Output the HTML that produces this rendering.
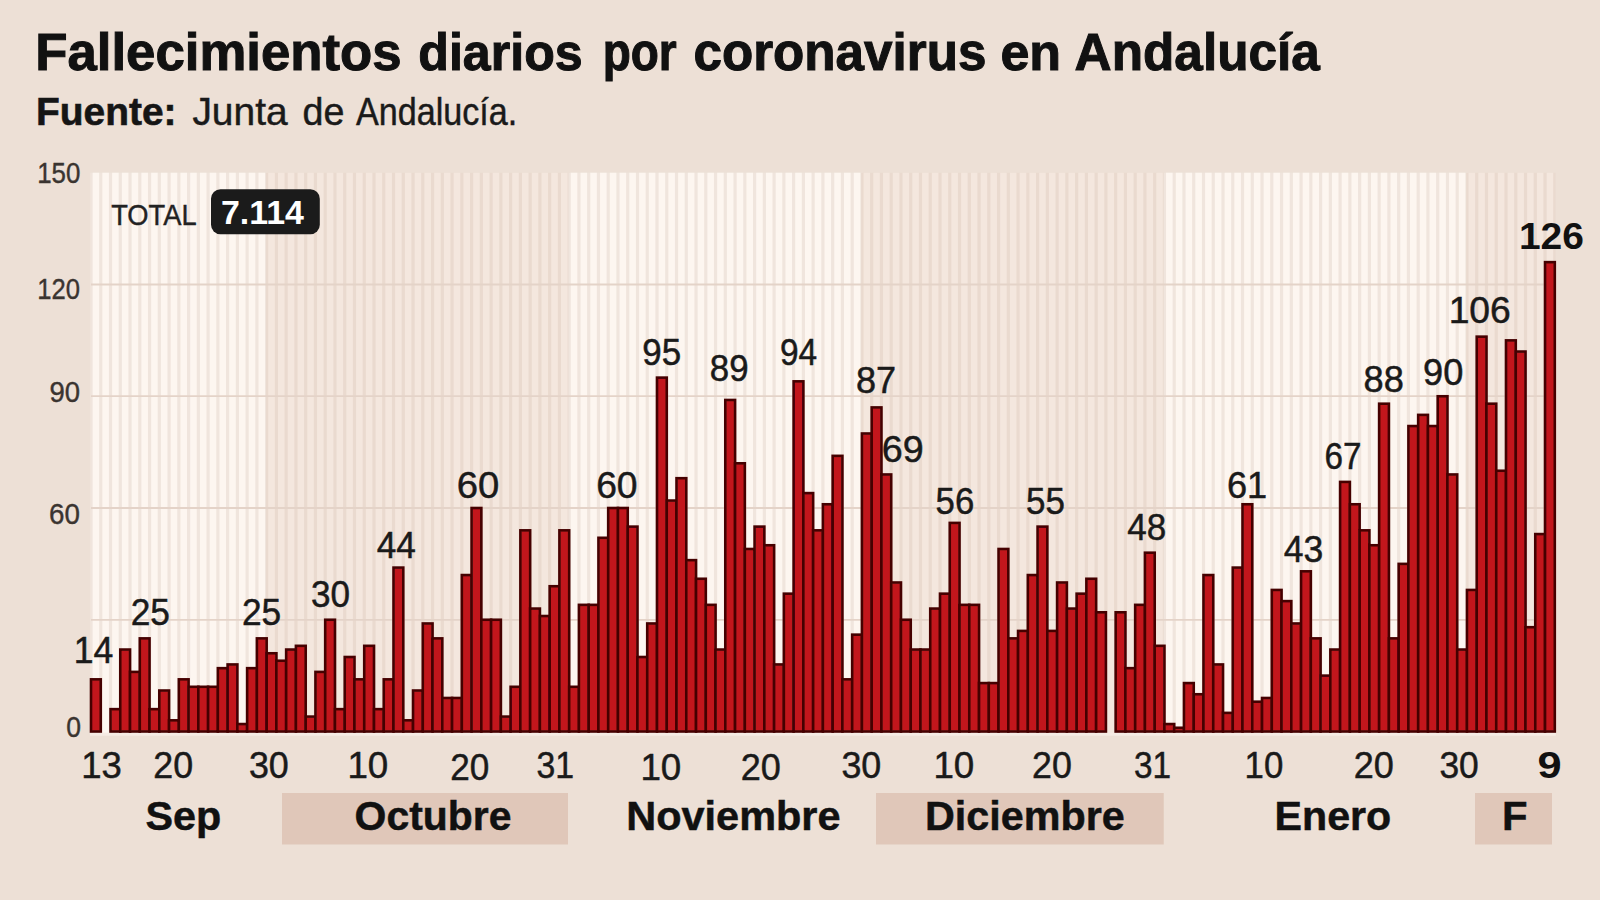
<!DOCTYPE html>
<html lang="es"><head><meta charset="utf-8"><title>Fallecimientos diarios por coronavirus en Andalucía</title>
<style>html,body{margin:0;padding:0;background:#EDE0D6;}body{width:1600px;height:900px;overflow:hidden;}svg{display:block;}text{font-family:"Liberation Sans",sans-serif;}</style>
</head><body>
<svg width="1600" height="900" viewBox="0 0 1600 900">
<rect width="1600" height="900" fill="#EDE0D6"/>
<g id="plotbg">
<rect x="90.20" y="172.75" width="177.26" height="560.75" fill="#F0E5DD"/>
<rect x="92.60" y="172.75" width="6.56" height="560.75" fill="#FDF6F0"/>
<rect x="102.36" y="172.75" width="6.56" height="560.75" fill="#FDF6F0"/>
<rect x="112.12" y="172.75" width="6.56" height="560.75" fill="#FDF6F0"/>
<rect x="121.88" y="172.75" width="6.56" height="560.75" fill="#FDF6F0"/>
<rect x="131.63" y="172.75" width="6.56" height="560.75" fill="#FDF6F0"/>
<rect x="141.39" y="172.75" width="6.56" height="560.75" fill="#FDF6F0"/>
<rect x="151.15" y="172.75" width="6.56" height="560.75" fill="#FDF6F0"/>
<rect x="160.91" y="172.75" width="6.56" height="560.75" fill="#FDF6F0"/>
<rect x="170.67" y="172.75" width="6.56" height="560.75" fill="#FDF6F0"/>
<rect x="180.43" y="172.75" width="6.56" height="560.75" fill="#FDF6F0"/>
<rect x="190.19" y="172.75" width="6.56" height="560.75" fill="#FDF6F0"/>
<rect x="199.95" y="172.75" width="6.56" height="560.75" fill="#FDF6F0"/>
<rect x="209.70" y="172.75" width="6.56" height="560.75" fill="#FDF6F0"/>
<rect x="219.46" y="172.75" width="6.56" height="560.75" fill="#FDF6F0"/>
<rect x="229.22" y="172.75" width="6.56" height="560.75" fill="#FDF6F0"/>
<rect x="238.98" y="172.75" width="6.56" height="560.75" fill="#FDF6F0"/>
<rect x="248.74" y="172.75" width="6.56" height="560.75" fill="#FDF6F0"/>
<rect x="258.50" y="172.75" width="6.56" height="560.75" fill="#FDF6F0"/>
<rect x="265.86" y="172.75" width="304.12" height="560.75" fill="#EADACF"/>
<rect x="268.26" y="172.75" width="6.56" height="560.75" fill="#F4E7DE"/>
<rect x="278.01" y="172.75" width="6.56" height="560.75" fill="#F4E7DE"/>
<rect x="287.77" y="172.75" width="6.56" height="560.75" fill="#F4E7DE"/>
<rect x="297.53" y="172.75" width="6.56" height="560.75" fill="#F4E7DE"/>
<rect x="307.29" y="172.75" width="6.56" height="560.75" fill="#F4E7DE"/>
<rect x="317.05" y="172.75" width="6.56" height="560.75" fill="#F4E7DE"/>
<rect x="326.81" y="172.75" width="6.56" height="560.75" fill="#F4E7DE"/>
<rect x="336.57" y="172.75" width="6.56" height="560.75" fill="#F4E7DE"/>
<rect x="346.33" y="172.75" width="6.56" height="560.75" fill="#F4E7DE"/>
<rect x="356.08" y="172.75" width="6.56" height="560.75" fill="#F4E7DE"/>
<rect x="365.84" y="172.75" width="6.56" height="560.75" fill="#F4E7DE"/>
<rect x="375.60" y="172.75" width="6.56" height="560.75" fill="#F4E7DE"/>
<rect x="385.36" y="172.75" width="6.56" height="560.75" fill="#F4E7DE"/>
<rect x="395.12" y="172.75" width="6.56" height="560.75" fill="#F4E7DE"/>
<rect x="404.88" y="172.75" width="6.56" height="560.75" fill="#F4E7DE"/>
<rect x="414.64" y="172.75" width="6.56" height="560.75" fill="#F4E7DE"/>
<rect x="424.39" y="172.75" width="6.56" height="560.75" fill="#F4E7DE"/>
<rect x="434.15" y="172.75" width="6.56" height="560.75" fill="#F4E7DE"/>
<rect x="443.91" y="172.75" width="6.56" height="560.75" fill="#F4E7DE"/>
<rect x="453.67" y="172.75" width="6.56" height="560.75" fill="#F4E7DE"/>
<rect x="463.43" y="172.75" width="6.56" height="560.75" fill="#F4E7DE"/>
<rect x="473.19" y="172.75" width="6.56" height="560.75" fill="#F4E7DE"/>
<rect x="482.95" y="172.75" width="6.56" height="560.75" fill="#F4E7DE"/>
<rect x="492.71" y="172.75" width="6.56" height="560.75" fill="#F4E7DE"/>
<rect x="502.46" y="172.75" width="6.56" height="560.75" fill="#F4E7DE"/>
<rect x="512.22" y="172.75" width="6.56" height="560.75" fill="#F4E7DE"/>
<rect x="521.98" y="172.75" width="6.56" height="560.75" fill="#F4E7DE"/>
<rect x="531.74" y="172.75" width="6.56" height="560.75" fill="#F4E7DE"/>
<rect x="541.50" y="172.75" width="6.56" height="560.75" fill="#F4E7DE"/>
<rect x="551.26" y="172.75" width="6.56" height="560.75" fill="#F4E7DE"/>
<rect x="561.02" y="172.75" width="6.56" height="560.75" fill="#F4E7DE"/>
<rect x="568.37" y="172.75" width="294.36" height="560.75" fill="#F0E5DD"/>
<rect x="570.77" y="172.75" width="6.56" height="560.75" fill="#FDF6F0"/>
<rect x="580.53" y="172.75" width="6.56" height="560.75" fill="#FDF6F0"/>
<rect x="590.29" y="172.75" width="6.56" height="560.75" fill="#FDF6F0"/>
<rect x="600.05" y="172.75" width="6.56" height="560.75" fill="#FDF6F0"/>
<rect x="609.81" y="172.75" width="6.56" height="560.75" fill="#FDF6F0"/>
<rect x="619.57" y="172.75" width="6.56" height="560.75" fill="#FDF6F0"/>
<rect x="629.33" y="172.75" width="6.56" height="560.75" fill="#FDF6F0"/>
<rect x="639.09" y="172.75" width="6.56" height="560.75" fill="#FDF6F0"/>
<rect x="648.84" y="172.75" width="6.56" height="560.75" fill="#FDF6F0"/>
<rect x="658.60" y="172.75" width="6.56" height="560.75" fill="#FDF6F0"/>
<rect x="668.36" y="172.75" width="6.56" height="560.75" fill="#FDF6F0"/>
<rect x="678.12" y="172.75" width="6.56" height="560.75" fill="#FDF6F0"/>
<rect x="687.88" y="172.75" width="6.56" height="560.75" fill="#FDF6F0"/>
<rect x="697.64" y="172.75" width="6.56" height="560.75" fill="#FDF6F0"/>
<rect x="707.40" y="172.75" width="6.56" height="560.75" fill="#FDF6F0"/>
<rect x="717.15" y="172.75" width="6.56" height="560.75" fill="#FDF6F0"/>
<rect x="726.91" y="172.75" width="6.56" height="560.75" fill="#FDF6F0"/>
<rect x="736.67" y="172.75" width="6.56" height="560.75" fill="#FDF6F0"/>
<rect x="746.43" y="172.75" width="6.56" height="560.75" fill="#FDF6F0"/>
<rect x="756.19" y="172.75" width="6.56" height="560.75" fill="#FDF6F0"/>
<rect x="765.95" y="172.75" width="6.56" height="560.75" fill="#FDF6F0"/>
<rect x="775.71" y="172.75" width="6.56" height="560.75" fill="#FDF6F0"/>
<rect x="785.47" y="172.75" width="6.56" height="560.75" fill="#FDF6F0"/>
<rect x="795.22" y="172.75" width="6.56" height="560.75" fill="#FDF6F0"/>
<rect x="804.98" y="172.75" width="6.56" height="560.75" fill="#FDF6F0"/>
<rect x="814.74" y="172.75" width="6.56" height="560.75" fill="#FDF6F0"/>
<rect x="824.50" y="172.75" width="6.56" height="560.75" fill="#FDF6F0"/>
<rect x="834.26" y="172.75" width="6.56" height="560.75" fill="#FDF6F0"/>
<rect x="844.02" y="172.75" width="6.56" height="560.75" fill="#FDF6F0"/>
<rect x="853.78" y="172.75" width="6.56" height="560.75" fill="#FDF6F0"/>
<rect x="861.13" y="172.75" width="304.12" height="560.75" fill="#EADACF"/>
<rect x="863.53" y="172.75" width="6.56" height="560.75" fill="#F4E7DE"/>
<rect x="873.29" y="172.75" width="6.56" height="560.75" fill="#F4E7DE"/>
<rect x="883.05" y="172.75" width="6.56" height="560.75" fill="#F4E7DE"/>
<rect x="892.81" y="172.75" width="6.56" height="560.75" fill="#F4E7DE"/>
<rect x="902.57" y="172.75" width="6.56" height="560.75" fill="#F4E7DE"/>
<rect x="912.33" y="172.75" width="6.56" height="560.75" fill="#F4E7DE"/>
<rect x="922.09" y="172.75" width="6.56" height="560.75" fill="#F4E7DE"/>
<rect x="931.85" y="172.75" width="6.56" height="560.75" fill="#F4E7DE"/>
<rect x="941.60" y="172.75" width="6.56" height="560.75" fill="#F4E7DE"/>
<rect x="951.36" y="172.75" width="6.56" height="560.75" fill="#F4E7DE"/>
<rect x="961.12" y="172.75" width="6.56" height="560.75" fill="#F4E7DE"/>
<rect x="970.88" y="172.75" width="6.56" height="560.75" fill="#F4E7DE"/>
<rect x="980.64" y="172.75" width="6.56" height="560.75" fill="#F4E7DE"/>
<rect x="990.40" y="172.75" width="6.56" height="560.75" fill="#F4E7DE"/>
<rect x="1000.16" y="172.75" width="6.56" height="560.75" fill="#F4E7DE"/>
<rect x="1009.91" y="172.75" width="6.56" height="560.75" fill="#F4E7DE"/>
<rect x="1019.67" y="172.75" width="6.56" height="560.75" fill="#F4E7DE"/>
<rect x="1029.43" y="172.75" width="6.56" height="560.75" fill="#F4E7DE"/>
<rect x="1039.19" y="172.75" width="6.56" height="560.75" fill="#F4E7DE"/>
<rect x="1048.95" y="172.75" width="6.56" height="560.75" fill="#F4E7DE"/>
<rect x="1058.71" y="172.75" width="6.56" height="560.75" fill="#F4E7DE"/>
<rect x="1068.47" y="172.75" width="6.56" height="560.75" fill="#F4E7DE"/>
<rect x="1078.23" y="172.75" width="6.56" height="560.75" fill="#F4E7DE"/>
<rect x="1087.98" y="172.75" width="6.56" height="560.75" fill="#F4E7DE"/>
<rect x="1097.74" y="172.75" width="6.56" height="560.75" fill="#F4E7DE"/>
<rect x="1107.50" y="172.75" width="6.56" height="560.75" fill="#F4E7DE"/>
<rect x="1117.26" y="172.75" width="6.56" height="560.75" fill="#F4E7DE"/>
<rect x="1127.02" y="172.75" width="6.56" height="560.75" fill="#F4E7DE"/>
<rect x="1136.78" y="172.75" width="6.56" height="560.75" fill="#F4E7DE"/>
<rect x="1146.54" y="172.75" width="6.56" height="560.75" fill="#F4E7DE"/>
<rect x="1156.29" y="172.75" width="6.56" height="560.75" fill="#F4E7DE"/>
<rect x="1163.65" y="172.75" width="304.12" height="560.75" fill="#F0E5DD"/>
<rect x="1166.05" y="172.75" width="6.56" height="560.75" fill="#FDF6F0"/>
<rect x="1175.81" y="172.75" width="6.56" height="560.75" fill="#FDF6F0"/>
<rect x="1185.57" y="172.75" width="6.56" height="560.75" fill="#FDF6F0"/>
<rect x="1195.33" y="172.75" width="6.56" height="560.75" fill="#FDF6F0"/>
<rect x="1205.09" y="172.75" width="6.56" height="560.75" fill="#FDF6F0"/>
<rect x="1214.85" y="172.75" width="6.56" height="560.75" fill="#FDF6F0"/>
<rect x="1224.61" y="172.75" width="6.56" height="560.75" fill="#FDF6F0"/>
<rect x="1234.36" y="172.75" width="6.56" height="560.75" fill="#FDF6F0"/>
<rect x="1244.12" y="172.75" width="6.56" height="560.75" fill="#FDF6F0"/>
<rect x="1253.88" y="172.75" width="6.56" height="560.75" fill="#FDF6F0"/>
<rect x="1263.64" y="172.75" width="6.56" height="560.75" fill="#FDF6F0"/>
<rect x="1273.40" y="172.75" width="6.56" height="560.75" fill="#FDF6F0"/>
<rect x="1283.16" y="172.75" width="6.56" height="560.75" fill="#FDF6F0"/>
<rect x="1292.92" y="172.75" width="6.56" height="560.75" fill="#FDF6F0"/>
<rect x="1302.67" y="172.75" width="6.56" height="560.75" fill="#FDF6F0"/>
<rect x="1312.43" y="172.75" width="6.56" height="560.75" fill="#FDF6F0"/>
<rect x="1322.19" y="172.75" width="6.56" height="560.75" fill="#FDF6F0"/>
<rect x="1331.95" y="172.75" width="6.56" height="560.75" fill="#FDF6F0"/>
<rect x="1341.71" y="172.75" width="6.56" height="560.75" fill="#FDF6F0"/>
<rect x="1351.47" y="172.75" width="6.56" height="560.75" fill="#FDF6F0"/>
<rect x="1361.23" y="172.75" width="6.56" height="560.75" fill="#FDF6F0"/>
<rect x="1370.99" y="172.75" width="6.56" height="560.75" fill="#FDF6F0"/>
<rect x="1380.74" y="172.75" width="6.56" height="560.75" fill="#FDF6F0"/>
<rect x="1390.50" y="172.75" width="6.56" height="560.75" fill="#FDF6F0"/>
<rect x="1400.26" y="172.75" width="6.56" height="560.75" fill="#FDF6F0"/>
<rect x="1410.02" y="172.75" width="6.56" height="560.75" fill="#FDF6F0"/>
<rect x="1419.78" y="172.75" width="6.56" height="560.75" fill="#FDF6F0"/>
<rect x="1429.54" y="172.75" width="6.56" height="560.75" fill="#FDF6F0"/>
<rect x="1439.30" y="172.75" width="6.56" height="560.75" fill="#FDF6F0"/>
<rect x="1449.05" y="172.75" width="6.56" height="560.75" fill="#FDF6F0"/>
<rect x="1458.81" y="172.75" width="6.56" height="560.75" fill="#FDF6F0"/>
<rect x="1466.17" y="172.75" width="89.43" height="560.75" fill="#EADACF"/>
<rect x="1468.57" y="172.75" width="6.56" height="560.75" fill="#F4E7DE"/>
<rect x="1478.33" y="172.75" width="6.56" height="560.75" fill="#F4E7DE"/>
<rect x="1488.09" y="172.75" width="6.56" height="560.75" fill="#F4E7DE"/>
<rect x="1497.85" y="172.75" width="6.56" height="560.75" fill="#F4E7DE"/>
<rect x="1507.61" y="172.75" width="6.56" height="560.75" fill="#F4E7DE"/>
<rect x="1517.37" y="172.75" width="6.56" height="560.75" fill="#F4E7DE"/>
<rect x="1527.12" y="172.75" width="6.56" height="560.75" fill="#F4E7DE"/>
<rect x="1536.88" y="172.75" width="6.56" height="560.75" fill="#F4E7DE"/>
<rect x="1546.64" y="172.75" width="6.56" height="560.75" fill="#F4E7DE"/>
</g>
<g id="grid" stroke="#E4D3C8" stroke-width="1.8">
<line x1="91.0" y1="619.8" x2="1554.8" y2="619.8"/>
<line x1="91.0" y1="508.0" x2="1554.8" y2="508.0"/>
<line x1="91.0" y1="396.2" x2="1554.8" y2="396.2"/>
<line x1="91.0" y1="284.5" x2="1554.8" y2="284.5"/>
</g>
<rect x="90.0" y="732.7" width="1465.8" height="3" fill="#F6EBE4"/>
<defs><filter id="soft" x="-1%" y="-1%" width="102%" height="102%"><feGaussianBlur stdDeviation="0.75"/></filter></defs>
<g id="bars" fill="#C2181C" stroke="#450606" stroke-width="2.6" stroke-linejoin="miter" filter="url(#soft)">
<rect x="91.00" y="679.35" width="9.76" height="52.15"/>
<rect x="110.52" y="709.15" width="9.76" height="22.35"/>
<rect x="120.28" y="649.55" width="9.76" height="81.95"/>
<rect x="130.03" y="671.90" width="9.76" height="59.60"/>
<rect x="139.79" y="638.38" width="9.76" height="93.12"/>
<rect x="149.55" y="709.15" width="9.76" height="22.35"/>
<rect x="159.31" y="690.52" width="9.76" height="40.98"/>
<rect x="169.07" y="720.33" width="9.76" height="11.18"/>
<rect x="178.83" y="679.35" width="9.76" height="52.15"/>
<rect x="188.59" y="686.80" width="9.76" height="44.70"/>
<rect x="198.35" y="686.80" width="9.76" height="44.70"/>
<rect x="208.10" y="686.80" width="9.76" height="44.70"/>
<rect x="217.86" y="668.17" width="9.76" height="63.33"/>
<rect x="227.62" y="664.45" width="9.76" height="67.05"/>
<rect x="237.38" y="724.05" width="9.76" height="7.45"/>
<rect x="247.14" y="668.17" width="9.76" height="63.33"/>
<rect x="256.90" y="638.38" width="9.76" height="93.12"/>
<rect x="266.66" y="653.27" width="9.76" height="78.23"/>
<rect x="276.41" y="660.73" width="9.76" height="70.78"/>
<rect x="286.17" y="649.55" width="9.76" height="81.95"/>
<rect x="295.93" y="645.83" width="9.76" height="85.67"/>
<rect x="305.69" y="716.60" width="9.76" height="14.90"/>
<rect x="315.45" y="671.90" width="9.76" height="59.60"/>
<rect x="325.21" y="619.75" width="9.76" height="111.75"/>
<rect x="334.97" y="709.15" width="9.76" height="22.35"/>
<rect x="344.73" y="657.00" width="9.76" height="74.50"/>
<rect x="354.48" y="679.35" width="9.76" height="52.15"/>
<rect x="364.24" y="645.83" width="9.76" height="85.67"/>
<rect x="374.00" y="709.15" width="9.76" height="22.35"/>
<rect x="383.76" y="679.35" width="9.76" height="52.15"/>
<rect x="393.52" y="567.60" width="9.76" height="163.90"/>
<rect x="403.28" y="720.33" width="9.76" height="11.18"/>
<rect x="413.04" y="690.52" width="9.76" height="40.98"/>
<rect x="422.79" y="623.48" width="9.76" height="108.03"/>
<rect x="432.55" y="638.38" width="9.76" height="93.12"/>
<rect x="442.31" y="697.98" width="9.76" height="33.52"/>
<rect x="452.07" y="697.98" width="9.76" height="33.52"/>
<rect x="461.83" y="575.05" width="9.76" height="156.45"/>
<rect x="471.59" y="508.00" width="9.76" height="223.50"/>
<rect x="481.35" y="619.75" width="9.76" height="111.75"/>
<rect x="491.11" y="619.75" width="9.76" height="111.75"/>
<rect x="500.86" y="716.60" width="9.76" height="14.90"/>
<rect x="510.62" y="686.80" width="9.76" height="44.70"/>
<rect x="520.38" y="530.35" width="9.76" height="201.15"/>
<rect x="530.14" y="608.58" width="9.76" height="122.92"/>
<rect x="539.90" y="616.02" width="9.76" height="115.48"/>
<rect x="549.66" y="586.23" width="9.76" height="145.28"/>
<rect x="559.42" y="530.35" width="9.76" height="201.15"/>
<rect x="569.17" y="686.80" width="9.76" height="44.70"/>
<rect x="578.93" y="604.85" width="9.76" height="126.65"/>
<rect x="588.69" y="604.85" width="9.76" height="126.65"/>
<rect x="598.45" y="537.80" width="9.76" height="193.70"/>
<rect x="608.21" y="508.00" width="9.76" height="223.50"/>
<rect x="617.97" y="508.00" width="9.76" height="223.50"/>
<rect x="627.73" y="526.62" width="9.76" height="204.88"/>
<rect x="637.49" y="657.00" width="9.76" height="74.50"/>
<rect x="647.24" y="623.48" width="9.76" height="108.03"/>
<rect x="657.00" y="377.62" width="9.76" height="353.88"/>
<rect x="666.76" y="500.55" width="9.76" height="230.95"/>
<rect x="676.52" y="478.20" width="9.76" height="253.30"/>
<rect x="686.28" y="560.15" width="9.76" height="171.35"/>
<rect x="696.04" y="578.77" width="9.76" height="152.72"/>
<rect x="705.80" y="604.85" width="9.76" height="126.65"/>
<rect x="715.55" y="649.55" width="9.76" height="81.95"/>
<rect x="725.31" y="399.97" width="9.76" height="331.53"/>
<rect x="735.07" y="463.30" width="9.76" height="268.20"/>
<rect x="744.83" y="548.98" width="9.76" height="182.53"/>
<rect x="754.59" y="526.62" width="9.76" height="204.88"/>
<rect x="764.35" y="545.25" width="9.76" height="186.25"/>
<rect x="774.11" y="664.45" width="9.76" height="67.05"/>
<rect x="783.87" y="593.67" width="9.76" height="137.83"/>
<rect x="793.62" y="381.35" width="9.76" height="350.15"/>
<rect x="803.38" y="493.10" width="9.76" height="238.40"/>
<rect x="813.14" y="530.35" width="9.76" height="201.15"/>
<rect x="822.90" y="504.27" width="9.76" height="227.22"/>
<rect x="832.66" y="455.85" width="9.76" height="275.65"/>
<rect x="842.42" y="679.35" width="9.76" height="52.15"/>
<rect x="852.18" y="634.65" width="9.76" height="96.85"/>
<rect x="861.93" y="433.50" width="9.76" height="298.00"/>
<rect x="871.69" y="407.43" width="9.76" height="324.07"/>
<rect x="881.45" y="474.47" width="9.76" height="257.03"/>
<rect x="891.21" y="582.50" width="9.76" height="149.00"/>
<rect x="900.97" y="619.75" width="9.76" height="111.75"/>
<rect x="910.73" y="649.55" width="9.76" height="81.95"/>
<rect x="920.49" y="649.55" width="9.76" height="81.95"/>
<rect x="930.25" y="608.58" width="9.76" height="122.92"/>
<rect x="940.00" y="593.67" width="9.76" height="137.83"/>
<rect x="949.76" y="522.90" width="9.76" height="208.60"/>
<rect x="959.52" y="604.85" width="9.76" height="126.65"/>
<rect x="969.28" y="604.85" width="9.76" height="126.65"/>
<rect x="979.04" y="683.08" width="9.76" height="48.43"/>
<rect x="988.80" y="683.08" width="9.76" height="48.43"/>
<rect x="998.56" y="548.98" width="9.76" height="182.53"/>
<rect x="1008.31" y="638.38" width="9.76" height="93.12"/>
<rect x="1018.07" y="630.92" width="9.76" height="100.58"/>
<rect x="1027.83" y="575.05" width="9.76" height="156.45"/>
<rect x="1037.59" y="526.62" width="9.76" height="204.88"/>
<rect x="1047.35" y="630.92" width="9.76" height="100.58"/>
<rect x="1057.11" y="582.50" width="9.76" height="149.00"/>
<rect x="1066.87" y="608.58" width="9.76" height="122.92"/>
<rect x="1076.63" y="593.67" width="9.76" height="137.83"/>
<rect x="1086.38" y="578.77" width="9.76" height="152.72"/>
<rect x="1096.14" y="612.30" width="9.76" height="119.20"/>
<rect x="1115.66" y="612.30" width="9.76" height="119.20"/>
<rect x="1125.42" y="668.17" width="9.76" height="63.33"/>
<rect x="1135.18" y="604.85" width="9.76" height="126.65"/>
<rect x="1144.94" y="552.70" width="9.76" height="178.80"/>
<rect x="1154.69" y="645.83" width="9.76" height="85.67"/>
<rect x="1164.45" y="724.05" width="9.76" height="7.45"/>
<rect x="1174.21" y="727.77" width="9.76" height="3.73"/>
<rect x="1183.97" y="683.08" width="9.76" height="48.43"/>
<rect x="1193.73" y="694.25" width="9.76" height="37.25"/>
<rect x="1203.49" y="575.05" width="9.76" height="156.45"/>
<rect x="1213.25" y="664.45" width="9.76" height="67.05"/>
<rect x="1223.01" y="712.88" width="9.76" height="18.62"/>
<rect x="1232.76" y="567.60" width="9.76" height="163.90"/>
<rect x="1242.52" y="504.27" width="9.76" height="227.22"/>
<rect x="1252.28" y="701.70" width="9.76" height="29.80"/>
<rect x="1262.04" y="697.98" width="9.76" height="33.52"/>
<rect x="1271.80" y="589.95" width="9.76" height="141.55"/>
<rect x="1281.56" y="601.12" width="9.76" height="130.38"/>
<rect x="1291.32" y="623.48" width="9.76" height="108.03"/>
<rect x="1301.07" y="571.33" width="9.76" height="160.18"/>
<rect x="1310.83" y="638.38" width="9.76" height="93.12"/>
<rect x="1320.59" y="675.62" width="9.76" height="55.88"/>
<rect x="1330.35" y="649.55" width="9.76" height="81.95"/>
<rect x="1340.11" y="481.92" width="9.76" height="249.58"/>
<rect x="1349.87" y="504.27" width="9.76" height="227.22"/>
<rect x="1359.63" y="530.35" width="9.76" height="201.15"/>
<rect x="1369.39" y="545.25" width="9.76" height="186.25"/>
<rect x="1379.14" y="403.70" width="9.76" height="327.80"/>
<rect x="1388.90" y="638.38" width="9.76" height="93.12"/>
<rect x="1398.66" y="563.88" width="9.76" height="167.62"/>
<rect x="1408.42" y="426.05" width="9.76" height="305.45"/>
<rect x="1418.18" y="414.88" width="9.76" height="316.62"/>
<rect x="1427.94" y="426.05" width="9.76" height="305.45"/>
<rect x="1437.70" y="396.25" width="9.76" height="335.25"/>
<rect x="1447.45" y="474.47" width="9.76" height="257.03"/>
<rect x="1457.21" y="649.55" width="9.76" height="81.95"/>
<rect x="1466.97" y="589.95" width="9.76" height="141.55"/>
<rect x="1476.73" y="336.65" width="9.76" height="394.85"/>
<rect x="1486.49" y="403.70" width="9.76" height="327.80"/>
<rect x="1496.25" y="470.75" width="9.76" height="260.75"/>
<rect x="1506.01" y="340.38" width="9.76" height="391.12"/>
<rect x="1515.77" y="351.55" width="9.76" height="379.95"/>
<rect x="1525.52" y="627.20" width="9.76" height="104.30"/>
<rect x="1535.28" y="534.08" width="9.76" height="197.43"/>
<rect x="1545.04" y="262.15" width="9.76" height="469.35"/>
</g>
<g id="ylab" stroke="#3a3430" stroke-width="0.4">
<text transform="translate(37.19 183.20) scale(0.9073 1)" font-size="28.57" font-weight="400" fill="#3a3430">150</text>
<text transform="translate(37.21 298.70) scale(0.8743 1)" font-size="29.29" font-weight="400" fill="#3a3430">120</text>
<text transform="translate(49.40 401.70) scale(0.9169 1)" font-size="30.00" font-weight="400" fill="#3a3430">90</text>
<text transform="translate(49.11 524.20) scale(0.9258 1)" font-size="30.00" font-weight="400" fill="#3a3430">60</text>
<text transform="translate(66.20 736.70) scale(0.9059 1)" font-size="29.29" font-weight="400" fill="#3a3430">0</text>
</g>
<g id="title" stroke="#111" stroke-width="1.0">
<text transform="translate(35.23 70.00) scale(1.0225 1)" font-size="51.59" font-weight="700" fill="#111">Fallecimientos</text>
<text transform="translate(418.29 70.00) scale(0.9719 1)" font-size="51.59" font-weight="700" fill="#111">diarios</text>
<text transform="translate(602.64 70.00) scale(0.8914 1)" font-size="51.59" font-weight="700" fill="#111">por</text>
<text transform="translate(693.46 70.00) scale(0.9921 1)" font-size="51.59" font-weight="700" fill="#111">coronavirus</text>
<text transform="translate(1000.44 70.00) scale(1.0086 1)" font-size="51.59" font-weight="700" fill="#111">en</text>
<text transform="translate(1074.57 70.00) scale(0.9950 1)" font-size="51.59" font-weight="700" fill="#111">Andalucía</text>
</g>
<g id="sub" stroke="#1a1a1a" stroke-width="0.45">
<text transform="translate(36.06 125.00) scale(1.0232 1)" font-size="38.04" font-weight="700" fill="#151515" stroke-width="0.6">Fuente:</text>
<text transform="translate(192.41 125.00) scale(1.0234 1)" font-size="38.04" font-weight="400" fill="#1a1a1a">Junta</text>
<text transform="translate(302.49 125.00) scale(0.9894 1)" font-size="38.04" font-weight="400" fill="#1a1a1a">de</text>
<text transform="translate(356.00 125.00) scale(0.8978 1)" font-size="38.04" font-weight="400" fill="#1a1a1a">Andalucía.</text>
</g>
<text transform="translate(111.15 224.80) scale(0.9067 1)" font-size="30.14" font-weight="400" fill="#222" stroke="#222" stroke-width="0.4">TOTAL</text>
<rect x="211" y="189.3" width="108.8" height="45" rx="9.5" ry="9.5" fill="#1b1b1b"/>
<text transform="translate(220.89 224.25) scale(1.0230 1)" font-size="33.14" font-weight="700" fill="#fff">7.114</text>
<g id="vlab" stroke="#1a1a1a" stroke-width="0.5">
<text transform="translate(73.81 663.35) scale(0.9666 1)" font-size="36.86" font-weight="400" fill="#1a1a1a">14</text>
<text transform="translate(130.73 624.60) scale(0.9585 1)" font-size="36.86" font-weight="400" fill="#1a1a1a">25</text>
<text transform="translate(241.98 624.60) scale(0.9585 1)" font-size="36.86" font-weight="400" fill="#1a1a1a">25</text>
<text transform="translate(310.95 607.10) scale(0.9531 1)" font-size="36.86" font-weight="400" fill="#1a1a1a">30</text>
<text transform="translate(376.80 557.60) scale(0.9543 1)" font-size="36.86" font-weight="400" fill="#1a1a1a">44</text>
<text transform="translate(456.84 497.60) scale(1.0378 1)" font-size="36.86" font-weight="400" fill="#1a1a1a">60</text>
<text transform="translate(596.14 497.60) scale(1.0113 1)" font-size="36.86" font-weight="400" fill="#1a1a1a">60</text>
<text transform="translate(642.35 364.60) scale(0.9492 1)" font-size="36.86" font-weight="400" fill="#1a1a1a">95</text>
<text transform="translate(709.86 380.85) scale(0.9452 1)" font-size="36.86" font-weight="400" fill="#1a1a1a">89</text>
<text transform="translate(779.91 364.60) scale(0.9077 1)" font-size="36.86" font-weight="400" fill="#1a1a1a">94</text>
<text transform="translate(856.06 392.60) scale(0.9783 1)" font-size="36.86" font-weight="400" fill="#1a1a1a">87</text>
<text transform="translate(881.87 461.60) scale(1.0213 1)" font-size="36.86" font-weight="400" fill="#1a1a1a">69</text>
<text transform="translate(935.61 514.10) scale(0.9427 1)" font-size="36.86" font-weight="400" fill="#1a1a1a">56</text>
<text transform="translate(1026.10 514.10) scale(0.9492 1)" font-size="36.86" font-weight="400" fill="#1a1a1a">55</text>
<text transform="translate(1127.30 540.10) scale(0.9505 1)" font-size="36.86" font-weight="400" fill="#1a1a1a">48</text>
<text transform="translate(1226.94 497.60) scale(0.9812 1)" font-size="36.86" font-weight="400" fill="#1a1a1a">61</text>
<text transform="translate(1283.79 561.60) scale(0.9633 1)" font-size="36.86" font-weight="400" fill="#1a1a1a">43</text>
<text transform="translate(1324.59 469.10) scale(0.9011 1)" font-size="36.86" font-weight="400" fill="#1a1a1a">67</text>
<text transform="translate(1363.55 392.10) scale(0.9819 1)" font-size="36.86" font-weight="400" fill="#1a1a1a">88</text>
<text transform="translate(1423.05 384.60) scale(0.9819 1)" font-size="36.86" font-weight="400" fill="#1a1a1a">90</text>
<text transform="translate(1448.64 323.35) scale(1.0116 1)" font-size="36.86" font-weight="400" fill="#1a1a1a">106</text>
</g>
<text transform="translate(1518.91 248.50) scale(1.0569 1)" font-size="36.86" font-weight="700" fill="#111">126</text>
<g id="xlab" stroke="#1a1a1a" stroke-width="0.5">
<text transform="translate(81.19 777.60) scale(1.0066 1)" font-size="36.29" font-weight="400" fill="#1a1a1a">13</text>
<text transform="translate(153.21 777.60) scale(0.9870 1)" font-size="36.29" font-weight="400" fill="#1a1a1a">20</text>
<text transform="translate(248.92 777.60) scale(0.9879 1)" font-size="36.29" font-weight="400" fill="#1a1a1a">30</text>
<text transform="translate(347.43 777.60) scale(1.0134 1)" font-size="36.29" font-weight="400" fill="#1a1a1a">10</text>
<text transform="translate(450.25 780.10) scale(0.9668 1)" font-size="36.29" font-weight="400" fill="#1a1a1a">20</text>
<text transform="translate(536.49 777.60) scale(0.9309 1)" font-size="36.29" font-weight="400" fill="#1a1a1a">31</text>
<text transform="translate(640.43 780.10) scale(1.0134 1)" font-size="36.29" font-weight="400" fill="#1a1a1a">10</text>
<text transform="translate(740.70 780.10) scale(0.9937 1)" font-size="36.29" font-weight="400" fill="#1a1a1a">20</text>
<text transform="translate(841.42 777.60) scale(0.9879 1)" font-size="36.29" font-weight="400" fill="#1a1a1a">30</text>
<text transform="translate(933.43 777.60) scale(1.0134 1)" font-size="36.29" font-weight="400" fill="#1a1a1a">10</text>
<text transform="translate(1031.96 777.60) scale(0.9870 1)" font-size="36.29" font-weight="400" fill="#1a1a1a">20</text>
<text transform="translate(1134.00 777.60) scale(0.9176 1)" font-size="36.29" font-weight="400" fill="#1a1a1a">31</text>
<text transform="translate(1244.56 777.60) scale(0.9587 1)" font-size="36.29" font-weight="400" fill="#1a1a1a">10</text>
<text transform="translate(1353.70 777.60) scale(0.9937 1)" font-size="36.29" font-weight="400" fill="#1a1a1a">20</text>
<text transform="translate(1439.44 777.60) scale(0.9747 1)" font-size="36.29" font-weight="400" fill="#1a1a1a">30</text>
</g>
<text transform="translate(1537.45 777.60) scale(1.1952 1)" font-size="36.29" font-weight="700" fill="#111">9</text>
<rect x="282.00" y="793" width="286.00" height="51.5" fill="#E0C7B9"/>
<rect x="876.00" y="793" width="287.75" height="51.5" fill="#E0C7B9"/>
<rect x="1475.00" y="793" width="77.00" height="51.5" fill="#E0C7B9"/>
<g id="mlab" stroke="#111" stroke-width="0.5">
<text transform="translate(145.42 830.00) scale(1.0180 1)" font-size="40.58" font-weight="700" fill="#111">Sep</text>
<text transform="translate(354.61 830.00) scale(1.0088 1)" font-size="40.58" font-weight="700" fill="#111">Octubre</text>
<text transform="translate(626.26 830.00) scale(1.0219 1)" font-size="40.58" font-weight="700" fill="#111">Noviembre</text>
<text transform="translate(925.02 830.00) scale(1.0183 1)" font-size="40.58" font-weight="700" fill="#111">Diciembre</text>
<text transform="translate(1274.53 830.00) scale(1.0151 1)" font-size="40.58" font-weight="700" fill="#111">Enero</text>
<text transform="translate(1501.99 830.00) scale(1.0307 1)" font-size="40.58" font-weight="700" fill="#111">F</text>
</g>
</svg></body></html>
